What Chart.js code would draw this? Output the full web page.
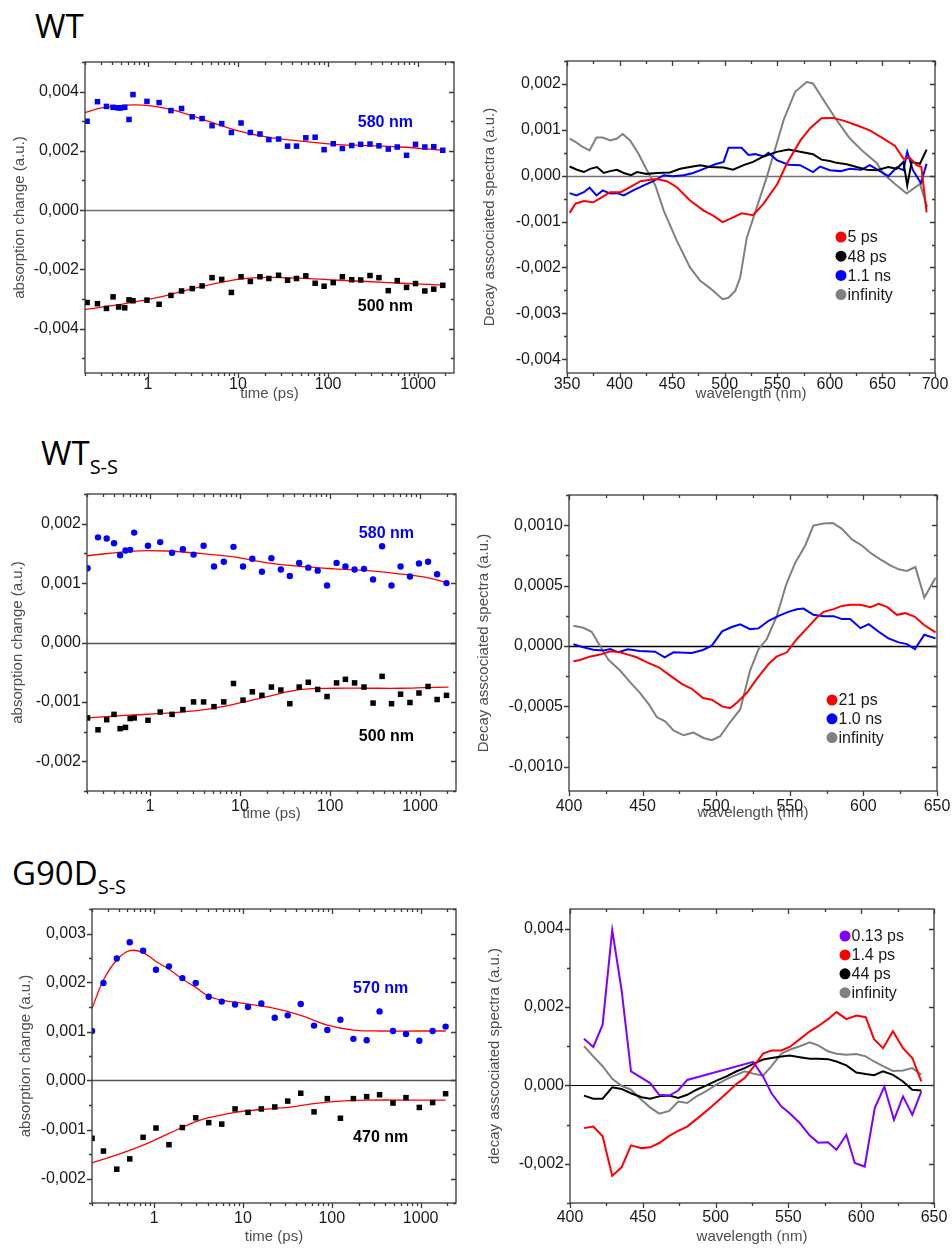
<!DOCTYPE html>
<html>
<head>
<meta charset="utf-8">
<script src="https://cdn.jsdelivr.net/npm/chart.js@4.4.1/dist/chart.umd.min.js"></script>
<style>
  body { margin: 0; width: 952px; height: 1250px; position: relative; overflow: hidden; background: #fff; }
  .title { position: absolute; font-family: 'Open Sans', sans-serif; font-size: 33px; line-height: 1; color: #000; white-space: nowrap; }
  .title sub { font-size: 20px; vertical-align: -9px; line-height: 1; }
  .panel { position: absolute; }
</style>
</head>
<body>
<div class="title" style="left:35px;top:9px">WT</div>
<div class="title" style="left:41px;top:436px">WT<sub>S-S</sub></div>
<div class="title" style="left:12px;top:856px">G90D<sub>S-S</sub></div>

<script>
// ---- WT kinetics (time in ps, absorption change) ----
const wtTime580 = [0.211, 0.275, 0.346, 0.41, 0.466, 0.498, 0.552, 0.616, 0.682, 0.975, 1.33, 1.80, 2.36, 3.10, 3.99, 5.15, 6.59, 8.44, 10.8, 13.7, 17.5, 22.0, 28.2, 35.5, 44.6, 56.6, 71.8, 90.3, 114, 144, 183, 230, 292, 367, 466, 586, 743, 934, 1186, 1490, 1876];
const wtAbs580 = [0.00300, 0.00366, 0.00350, 0.00347, 0.00345, 0.00345, 0.00347, 0.00306, 0.00390, 0.00367, 0.00363, 0.00336, 0.00343, 0.00315, 0.00309, 0.00285, 0.00292, 0.00262, 0.00294, 0.00262, 0.00257, 0.00238, 0.00240, 0.00216, 0.00216, 0.00244, 0.00246, 0.00204, 0.00224, 0.00208, 0.00218, 0.00222, 0.00223, 0.00217, 0.00206, 0.00213, 0.00185, 0.00222, 0.00213, 0.00214, 0.00202];
const wtTime500 = [0.211, 0.275, 0.346, 0.41, 0.473, 0.552, 0.616, 0.682, 0.975, 1.33, 1.80, 2.36, 3.10, 3.99, 5.15, 6.59, 8.44, 10.8, 13.7, 17.5, 22.0, 28.2, 35.5, 44.6, 56.6, 71.8, 90.3, 114, 144, 183, 230, 292, 367, 466, 586, 743, 934, 1186, 1490, 1876];
const wtAbs500 = [-0.00312, -0.00316, -0.00332, -0.00293, -0.00327, -0.00330, -0.00303, -0.00306, -0.00304, -0.00318, -0.00288, -0.00273, -0.00265, -0.00256, -0.00228, -0.00234, -0.00278, -0.00225, -0.00241, -0.00225, -0.00231, -0.00220, -0.00237, -0.00231, -0.00222, -0.00247, -0.00257, -0.00245, -0.00225, -0.00235, -0.00236, -0.00221, -0.00228, -0.00272, -0.00238, -0.00261, -0.00248, -0.00273, -0.00267, -0.00254];
const wtFitTime580 = [0.2, 0.304, 0.711, 1.66, 3.89, 9.1, 21.3, 49.8, 116, 272, 637, 1923];
const wtFit580 = [0.00329, 0.00345, 0.00355, 0.00342, 0.00308, 0.00271, 0.00246, 0.00233, 0.00222, 0.00218, 0.00213, 0.00202];
const wtFitTime500 = [0.2, 0.601, 1.29, 3.89, 10.8, 21.3, 49.8, 116, 272, 637, 1923];
const wtFit500 = [-0.00336, -0.00314, -0.00295, -0.00258, -0.00232, -0.00227, -0.00230, -0.00236, -0.00241, -0.00247, -0.00253];

// ---- WT decay associated spectra (wavelength in nm) ----
const wtWl5ps = [352.5, 358, 366, 375, 383, 391, 401, 410, 420, 429, 435.5, 445, 454.5, 467, 480, 489, 498, 505, 516, 527, 537, 550, 559, 572, 581, 592, 603, 613, 625.5, 638, 651, 662, 670, 676, 682.5, 687, 692];
const wtDas5ps = [-0.00081, -0.00061, -0.00055, -0.00058, -0.00047, -0.00036, -0.00036, -0.00025, -0.00012, -0.00009, -0.00007, -0.00012, -0.00025, -0.00054, -0.00076, -0.00087, -0.00101, -0.00094, -0.00082, -0.00086, -0.00061, -0.00018, 0.00026, 0.00077, 0.00103, 0.00125, 0.00126, 0.00120, 0.00110, 0.00099, 0.00081, 0.00065, 0.00037, 0.00039, 0.00023, 0.00019, -0.00080];
const wtWl48ps = [352.5, 359.5, 366, 372, 378.5, 385, 391, 397.5, 404, 411, 416.5, 426, 435.5, 448, 457.7, 467, 476.7, 486, 499, 508, 518, 527, 537, 549.5, 560.6, 571.7, 584, 592, 600, 606.5, 616, 625.5, 635, 644.5, 655.6, 663.5, 670, 673.6, 677.8, 685.7, 692];
const wtDas48ps = [0.00020, 0.00013, 0.00008, 0.00015, 0.00019, 0.00006, 0.00010, 0.00013, 0.00006, 0.00001, 0.00008, 0.00004, 0.00006, 0.00007, 0.00015, 0.00019, 0.00023, 0.00019, 0.00018, 0.00013, 0.00023, 0.00030, 0.00042, 0.00052, 0.00057, 0.00052, 0.00047, 0.00035, 0.00032, 0.00028, 0.00025, 0.00019, 0.00013, 0.00012, 0.00019, 0.00015, 0.00030, -0.00021, 0.00030, 0.00026, 0.00057];
const wtWl11ns = [352.5, 359, 366, 371.5, 378, 384, 391, 397.5, 404, 413, 423, 432, 442, 451, 461, 470, 480, 491, 499, 503.6, 516, 522.6, 529, 537, 541.6, 549.5, 560.6, 571.7, 584, 590.7, 600, 610, 619, 630, 638, 646, 655.6, 663.5, 670, 673.6, 679, 686.6, 692];
const wtDas11ns = [-0.00038, -0.00043, -0.00036, -0.00026, -0.00043, -0.00032, -0.00039, -0.00038, -0.00043, -0.00032, -0.00021, -0.00012, 0.00001, -0.00001, 0.00001, 0.00006, 0.00015, 0.00025, 0.00030, 0.00061, 0.00061, 0.00045, 0.00047, 0.00042, 0.00050, 0.00034, 0.00024, 0.00023, 0.00008, 0.00020, 0.00012, 0.00010, 0.00015, 0.00013, 0.00023, 0.00012, -0.00001, 0.00018, 0.00012, 0.00052, 0.00012, -0.00016, 0.00026];
const wtWlInf = [352.5, 358, 364, 371.5, 378, 384, 391, 397.5, 403, 410, 418, 426, 434, 442, 454.5, 467, 476.7, 486, 498, 503.6, 510, 514.7, 521, 530.5, 540, 549.5, 556, 567, 578, 584, 594, 606.5, 619, 632, 644.5, 651, 662, 673, 685.7, 692.6];
const wtDasInf = [0.00081, 0.00074, 0.00064, 0.00055, 0.00083, 0.00083, 0.00077, 0.00081, 0.00091, 0.00077, 0.00048, 0.00012, -0.00021, -0.00076, -0.00142, -0.00200, -0.00229, -0.00245, -0.00269, -0.00266, -0.00251, -0.00222, -0.00135, -0.00069, -0.00003, 0.00070, 0.00121, 0.00183, 0.00204, 0.00201, 0.00165, 0.00121, 0.00081, 0.00052, 0.00028, 0.00004, -0.00018, -0.00039, -0.00018, -0.00069];

// ---- WT S-S kinetics ----
const ssTime = [0.203, 0.265, 0.331, 0.399, 0.466, 0.535, 0.603, 0.668, 0.950, 1.30, 1.76, 2.32, 3.05, 3.94, 5.14, 6.60, 8.46, 10.8, 13.7, 17.5, 22.3, 28.4, 35.7, 45.4, 57.3, 72.8, 92.5, 118, 148, 187, 238, 300, 378, 481, 606, 770, 970, 1224, 1542, 1961];
const ssAbs580 = [0.00125, 0.00177, 0.00175, 0.00167, 0.00147, 0.00155, 0.00156, 0.00185, 0.00163, 0.00169, 0.00151, 0.00157, 0.00148, 0.00163, 0.00128, 0.00136, 0.00161, 0.00128, 0.00141, 0.00119, 0.00142, 0.00123, 0.00112, 0.00134, 0.00126, 0.00121, 0.00096, 0.00134, 0.00128, 0.00123, 0.00124, 0.00106, 0.00162, 0.00096, 0.00128, 0.00111, 0.00133, 0.00136, 0.00115, 0.00100];
const ssAbs500 = [-0.00127, -0.00147, -0.00130, -0.00121, -0.00145, -0.00143, -0.00128, -0.00127, -0.00131, -0.00117, -0.00121, -0.00113, -0.00100, -0.00100, -0.00108, -0.00100, -0.00069, -0.00097, -0.00083, -0.00089, -0.00075, -0.00080, -0.00103, -0.00075, -0.00067, -0.00079, -0.00091, -0.00068, -0.00062, -0.00068, -0.00075, -0.00102, -0.00057, -0.00103, -0.00087, -0.00101, -0.00085, -0.00074, -0.00096, -0.00089];
const ssFitTime = [0.2, 0.651, 1.54, 3.62, 8.53, 20.1, 47.4, 112, 264, 621, 1132, 2065];
const ssFit580 = [0.00146, 0.00154, 0.00154, 0.00150, 0.00144, 0.00134, 0.00128, 0.00124, 0.00121, 0.00115, 0.00110, 0.00100];
const ssFit500 = [-0.00127, -0.00122, -0.00119, -0.00114, -0.00104, -0.00091, -0.00079, -0.00077, -0.00077, -0.00077, -0.00076, -0.00075];

// ---- WT S-S decay associated spectra ----
const ssWl21ps = [403, 407.5, 414, 421, 428, 434.7, 440, 446, 453, 461, 468.7, 476.6, 483.4, 491, 497, 504, 509.5, 514, 520.8, 527.6, 535.6, 541, 548, 554.8, 561.6, 568.4, 573, 579.8, 585.4, 591, 598, 604.7, 610.4, 616, 622.8, 628.5, 635, 641, 649];
const ssDas21ps = [-0.000126, -0.000115, -0.000088, -0.000071, -0.000044, -0.000052, -0.000071, -0.000093, -0.000135, -0.000176, -0.000245, -0.000313, -0.000354, -0.000431, -0.000445, -0.000500, -0.000514, -0.000470, -0.000387, -0.000272, -0.000148, -0.000088, -0.000052, 0.000058, 0.000146, 0.000236, 0.000283, 0.000305, 0.000332, 0.000341, 0.000341, 0.000321, 0.000349, 0.000324, 0.000258, 0.000272, 0.000242, 0.000176, 0.000113];
const ssWl10ns = [403, 409.7, 416.5, 423, 428, 433.5, 440, 448, 458.5, 465, 471, 483.4, 491, 497, 504, 510.6, 516.3, 523, 528.8, 535.6, 542.4, 549, 554.8, 559.4, 566, 573, 579.8, 585.4, 591, 598, 603.6, 610.4, 617, 624, 629.6, 635, 641.4, 649];
const ssDas10ns = [0.000014, -0.000011, -0.000030, -0.000038, -0.000025, -0.000052, -0.000027, -0.000041, -0.000047, -0.000093, -0.000052, -0.000058, -0.000033, 0.000003, 0.000121, 0.000157, 0.000179, 0.000140, 0.000146, 0.000209, 0.000250, 0.000283, 0.000305, 0.000310, 0.000258, 0.000247, 0.000247, 0.000223, 0.000223, 0.000148, 0.000181, 0.000118, 0.000063, 0.000030, 0.000016, -0.000025, 0.000093, 0.000063];
const ssWlInf = [403, 409.7, 415.4, 421, 426.7, 434.7, 441.5, 448.3, 454, 459.6, 465.3, 471, 477.8, 484.6, 491.4, 497, 502.7, 509.5, 516.3, 523, 528.8, 534.4, 541.2, 547.6, 553.7, 560.5, 566, 573, 579.3, 585.4, 592.2, 599, 604.7, 611.5, 618.3, 624, 629.6, 635.3, 641.4, 649];
const ssDasInf = [0.000168, 0.000151, 0.000118, 0.000003, -0.000113, -0.000203, -0.000299, -0.000390, -0.000478, -0.000588, -0.000624, -0.000698, -0.000739, -0.000717, -0.000761, -0.000780, -0.000747, -0.000629, -0.000525, -0.000203, -0.000025, 0.000058, 0.000250, 0.000511, 0.000690, 0.000832, 0.000997, 0.001014, 0.001019, 0.000970, 0.000882, 0.000832, 0.000772, 0.000717, 0.000668, 0.000635, 0.000621, 0.000654, 0.000401, 0.000566];

// ---- G90D S-S kinetics ----
const gTime = [0.2, 0.269, 0.380, 0.532, 0.752, 1.05, 1.47, 2.08, 2.94, 4.12, 5.77, 8.15, 11.4, 16.1, 22.8, 31.9, 44.7, 63.1, 89.1, 125, 175, 247, 345, 488, 684, 966, 1365, 1910];
const gAbs570 = [0.00101, 0.00199, 0.00249, 0.00282, 0.00265, 0.00226, 0.00233, 0.00209, 0.00199, 0.00171, 0.00161, 0.00155, 0.00150, 0.00157, 0.00128, 0.00133, 0.00156, 0.00112, 0.00103, 0.00124, 0.00085, 0.00082, 0.00141, 0.00101, 0.00095, 0.00081, 0.00101, 0.00110];
const gAbs470 = [-0.00118, -0.00144, -0.00181, -0.00160, -0.00116, -0.00097, -0.00131, -0.00096, -0.00076, -0.00086, -0.00089, -0.00058, -0.00065, -0.00058, -0.00054, -0.00042, -0.00026, -0.00064, -0.00037, -0.00077, -0.00037, -0.00033, -0.00029, -0.00046, -0.00035, -0.00055, -0.00045, -0.00027];
const gFitTime570 = [0.2, 0.269, 0.380, 0.532, 0.752, 1.05, 1.47, 2.08, 2.94, 4.12, 5.77, 11.4, 22.8, 44.7, 89.1, 175, 345, 966, 1910];
const gFit570 = [0.00147, 0.00205, 0.00246, 0.00265, 0.00261, 0.00243, 0.00227, 0.00207, 0.00190, 0.00172, 0.00164, 0.00156, 0.00147, 0.00133, 0.00113, 0.00103, 0.00101, 0.00101, 0.00101];
const gFitTime470 = [0.2, 0.380, 0.752, 1.47, 2.94, 4.12, 8.15, 16.1, 31.9, 63.1, 125, 247, 966, 1910];
const gFit470 = [-0.00168, -0.00152, -0.00132, -0.00108, -0.00084, -0.00076, -0.00065, -0.00059, -0.00055, -0.00047, -0.00042, -0.00040, -0.00040, -0.00040];

// ---- G90D S-S decay associated spectra ----
const gWl013 = [409.6, 416, 422.4, 429, 435.4, 441.9, 449.2, 455, 461.3, 468.2, 474.3, 480.5, 525.8, 532.6, 538.4, 545.2, 550.9, 557.8, 564.7, 570.4, 577.2, 583, 589.8, 595.6, 602.4, 609.3, 615.9, 622.5, 628.7, 635.1, 641.3];
const gDas013 = [0.00119, 0.00098, 0.00155, 0.00396, 0.00244, 0.00036, 0.00019, 0.00006, -0.00024, -0.00026, -0.00013, 0.00014, 0.00060, 0.00023, -0.00020, -0.00054, -0.00071, -0.00096, -0.00128, -0.00146, -0.00145, -0.00164, -0.00126, -0.00198, -0.00207, -0.00058, -0.00003, -0.00088, -0.00028, -0.00075, -0.00015];
const gWl = [409.6, 416, 422.4, 429, 435.4, 441.9, 449.2, 455, 461.3, 468.2, 474.3, 480.5, 486.9, 493.8, 500.6, 507.5, 514.4, 520, 525.8, 532.6, 538.4, 545.2, 550.9, 557.8, 564.7, 570.4, 577.2, 583, 589.8, 596.7, 603.1, 608.8, 615, 621.8, 628.7, 635.1, 641.3];
const gDas14 = [-0.00109, -0.00105, -0.00130, -0.00231, -0.00209, -0.00153, -0.00160, -0.00158, -0.00147, -0.00129, -0.00116, -0.00105, -0.00086, -0.00065, -0.00043, -0.00020, 0.00004, 0.00019, 0.00046, 0.00081, 0.00089, 0.00089, 0.00098, 0.00118, 0.00138, 0.00151, 0.00169, 0.00187, 0.00169, 0.00178, 0.00174, 0.00118, 0.00095, 0.00138, 0.00095, 0.00070, 0.00010];
const gDas44 = [-0.00026, -0.00034, -0.00034, -0.00005, -0.00009, -0.00020, -0.00030, -0.00034, -0.00028, -0.00026, -0.00032, -0.00024, -0.00011, 0.00000, 0.00012, 0.00023, 0.00036, 0.00044, 0.00055, 0.00066, 0.00070, 0.00074, 0.00076, 0.00072, 0.00068, 0.00068, 0.00067, 0.00061, 0.00051, 0.00033, 0.00029, 0.00026, 0.00036, 0.00027, 0.00010, -0.00011, -0.00013];
const gDasInf = [0.00100, 0.00074, 0.00049, 0.00017, -0.00001, -0.00011, -0.00037, -0.00056, -0.00072, -0.00065, -0.00041, -0.00045, -0.00028, -0.00014, 0.00002, 0.00016, 0.00027, 0.00036, 0.00030, 0.00025, 0.00049, 0.00081, 0.00091, 0.00100, 0.00110, 0.00102, 0.00087, 0.00081, 0.00078, 0.00080, 0.00074, 0.00061, 0.00049, 0.00037, 0.00038, 0.00044, 0.00027];

const decadeTicks = [1, 10, 100, 1000];

const FONT = "'Liberation Sans', Arial, sans-serif";
const BLUE = '#0000ff', RED = '#ff0000', BLACK = '#000000', GRAY = '#808080', PURPLE = '#8000ff';
const AXW = 100, AXH = 50, PADT = 12, PADR = 22;

const pts = (xs, ys) => xs.map((x, i) => ({ x, y: ys[i] }));

const dots = (xs, ys, color, style, r) => ({
    data: pts(xs, ys), showLine: false, pointStyle: style, pointRadius: r,
    pointBackgroundColor: color, pointBorderWidth: 0, borderColor: color
});
const fit = (xs, ys) => ({
    data: pts(xs, ys), borderColor: RED, borderWidth: 1.3, pointRadius: 0, tension: 0.35
});
const spec = (label, xs, ys, color) => ({
    label, data: pts(xs, ys), borderColor: color, borderWidth: 2, pointRadius: 0, tension: 0
});

// frame, mirrored ticks, zero line, annotations and in-plot legend
const framePlugin = {
    id: 'frame',
    beforeDatasetsDraw(chart, args, opts) {
        const { ctx, chartArea: a, scales: { y } } = chart;
        const y0 = Math.round(y.getPixelForValue(0)) + 0.5;
        ctx.save();
        ctx.strokeStyle = opts.zeroColor;
        ctx.lineWidth = opts.zeroWidth;
        ctx.beginPath();
        ctx.moveTo(a.left, y0);
        ctx.lineTo(a.right, y0);
        ctx.stroke();
        ctx.restore();
    },
    afterDatasetsDraw(chart, args, opts) {
        const { ctx, chartArea: a, scales: { x, y } } = chart;
        ctx.save();
        ctx.strokeStyle = '#3a3a3a';
        ctx.lineWidth = 1.3;
        ctx.strokeRect(a.left, a.top, a.width, a.height);
        ctx.beginPath();

        // y ticks: outward on the left, inward on the right
        const yRatio = Math.round(y.options.ticks.stepSize / opts.yMinor);
        for (let i = Math.ceil(y.min / opts.yMinor - 1e-6); i * opts.yMinor <= y.max + 1e-12; i++) {
            const p = Math.round(y.getPixelForValue(i * opts.yMinor)) + 0.5;
            const len = i % yRatio === 0 ? 5 : 3;
            ctx.moveTo(a.left - len, p); ctx.lineTo(a.left, p);
            ctx.moveTo(a.right, p); ctx.lineTo(a.right - len, p);
        }

        // x ticks: outward at the bottom, inward at the top
        const xt = [];
        if (x.type === 'logarithmic') {
            for (let e = -1; e <= 3; e++) {
                for (let m = 1; m <= 9; m++) {
                    const v = m * Math.pow(10, e);
                    if (v >= x.min && v <= x.max) xt.push({ v, major: m === 1 });
                }
            }
        } else {
            const xRatio = Math.round(x.options.ticks.stepSize / opts.xMinor);
            for (let i = Math.ceil(x.min / opts.xMinor - 1e-6); i * opts.xMinor <= x.max + 1e-9; i++) {
                xt.push({ v: i * opts.xMinor, major: i % xRatio === 0 });
            }
        }
        xt.forEach(t => {
            const p = Math.round(x.getPixelForValue(t.v)) + 0.5;
            const len = t.major ? 5 : 3;
            ctx.moveTo(p, a.bottom); ctx.lineTo(p, a.bottom + len);
            ctx.moveTo(p, a.top); ctx.lineTo(p, a.top + len);
        });
        ctx.stroke();

        // wavelength notes on kinetic traces
        (opts.notes || []).forEach(n => {
            ctx.font = 'bold 16px ' + FONT;
            ctx.fillStyle = n.color;
            ctx.textAlign = 'center';
            ctx.textBaseline = 'middle';
            ctx.fillText(n.text, x.getPixelForValue(n.x), y.getPixelForValue(n.y));
        });

        // legend inside the plot
        if (opts.legend) {
            const L = opts.legend;
            let row = 0;
            chart.data.datasets.forEach(ds => {
                if (!ds.label) return;
                const cx = a.left + L.dx, cy = a.top + L.dy + row * L.gap;
                ctx.fillStyle = ds.borderColor;
                ctx.beginPath();
                ctx.arc(cx, cy, 5.5, 0, Math.PI * 2);
                ctx.fill();
                ctx.font = '16px ' + FONT;
                ctx.fillStyle = '#1a1a1a';
                ctx.textAlign = 'left';
                ctx.textBaseline = 'middle';
                ctx.fillText(ds.label, cx + 6.5, cy + 1);
                row++;
            });
        }
        ctx.restore();
    }
};

const fmtY = dec => v => (Math.abs(v) < 1e-10 ? 0 : v).toFixed(dec).replace('.', ',');

function makePanel(p) {
    const [l, t, r, b] = p.box;
    const c = document.createElement('canvas');
    c.className = 'panel';
    c.width = r - l + AXW + PADR;
    c.height = b - t + PADT + AXH;
    c.style.left = (l - AXW) + 'px';
    c.style.top = (t - PADT) + 'px';
    document.body.appendChild(c);

    const xScale = {
        type: p.log ? 'logarithmic' : 'linear',
        min: p.xMin, max: p.xMax,
        grid: { display: false, drawTicks: false },
        border: { display: false },
        ticks: {
            font: { family: FONT, size: 16 }, color: '#1a1a1a', padding: p.xPad,
            maxRotation: 0, autoSkip: false, includeBounds: false,
            callback: v => String(v)
        },
        title: {
            display: true, text: p.log ? 'time (ps)' : 'wavelength (nm)',
            font: { family: FONT, size: 15 }, color: '#4d4d4d',
            padding: { top: 0, bottom: p.xTitlePad }
        },
        afterFit: s => { s.height = AXH; s.paddingLeft = 0; s.paddingRight = 0; }
    };
    if (p.log) {
        xScale.afterBuildTicks = s => { s.ticks = decadeTicks.map(v => ({ value: v })); };
    } else {
        xScale.ticks.stepSize = p.xStep;
    }

    new Chart(c, {
        type: 'line',
        data: { datasets: p.datasets },
        options: {
            responsive: false,
            animation: false,
            layout: { padding: { left: 0, top: PADT, right: PADR, bottom: 0 } },
            plugins: {
                legend: { display: false },
                tooltip: { enabled: false },
                frame: {
                    zeroColor: p.zeroColor, zeroWidth: p.zeroWidth,
                    yMinor: p.yStep / 2, xMinor: p.xStep ? p.xStep / 2 : 0,
                    notes: p.notes, legend: p.legend
                }
            },
            scales: {
                x: xScale,
                y: {
                    min: p.yMin, max: p.yMax,
                    grid: { display: false, drawTicks: false },
                    border: { display: false },
                    ticks: {
                        stepSize: p.yStep, padding: 6,
                        font: { family: FONT, size: 16 }, color: '#1a1a1a',
                        callback: fmtY(p.yDec)
                    },
                    // labels only on multiples of the step, inside the range
                    afterBuildTicks: s => {
                        const out = [];
                        for (let i = Math.ceil(p.yMin / p.yStep - 1e-6); i * p.yStep <= p.yMax + 1e-12; i++) {
                            out.push({ value: i * p.yStep });
                        }
                        s.ticks = out;
                    },
                    title: {
                        display: true, text: p.yTitle,
                        font: { family: FONT, size: 15 }, color: '#4d4d4d',
                        padding: { top: p.yTitlePad, bottom: 0 }
                    },
                    afterFit: s => { s.width = AXW; s.paddingTop = 0; s.paddingBottom = 0; }
                }
            }
        },
        plugins: [framePlugin]
    });
}

makePanel({
    box: [85, 62, 454, 373], log: true, xMin: 0.2, xMax: 2500, xPad: 2, xTitlePad: 20,
    yMin: -0.0055, yMax: 0.005, yStep: 0.002, yDec: 3, yTitlePad: 26,
    yTitle: 'absorption change (a.u.)', zeroColor: '#707070', zeroWidth: 1.5,
    notes: [{ text: '580 nm', x: 432, y: 0.00297, color: BLUE }, { text: '500 nm', x: 432, y: -0.00327, color: BLACK }],
    datasets: [
        dots(wtTime580, wtAbs580, BLUE, 'rect', 3.9),
        dots(wtTime500, wtAbs500, BLACK, 'rect', 3.9),
        fit(wtFitTime580, wtFit580),
        fit(wtFitTime500, wtFit500)
    ]
});

makePanel({
    box: [567, 61, 935, 373], log: false, xMin: 350, xMax: 700, xStep: 50, xPad: 2, xTitlePad: 20,
    yMin: -0.0043, yMax: 0.0025, yStep: 0.001, yDec: 3, yTitlePad: 14,
    yTitle: 'Decay asscociated spectra (a.u.)', zeroColor: '#707070', zeroWidth: 1.5,
    legend: { dx: 274, dy: 176, gap: 19.2 },
    datasets: [
        spec('5 ps', wtWl5ps, wtDas5ps, RED),
        spec('48 ps', wtWl48ps, wtDas48ps, BLACK),
        spec('1.1 ns', wtWl11ns, wtDas11ns, BLUE),
        spec('infinity', wtWlInf, wtDasInf, GRAY)
    ]
});

makePanel({
    box: [87, 494, 456, 791], log: true, xMin: 0.2, xMax: 2500, xPad: 6, xTitlePad: 18,
    yMin: -0.0025, yMax: 0.0025, yStep: 0.001, yDec: 3, yTitlePad: 22,
    yTitle: 'absorption change (a.u.)', zeroColor: '#555555', zeroWidth: 1.5,
    notes: [{ text: '580 nm', x: 422, y: 0.00184, color: BLUE }, { text: '500 nm', x: 422, y: -0.00158, color: BLACK }],
    datasets: [
        dots(ssTime, ssAbs580, BLUE, 'circle', 3.2),
        dots(ssTime, ssAbs500, BLACK, 'rect', 3.9),
        fit(ssFitTime, ssFit580),
        fit(ssFitTime, ssFit500)
    ]
});

makePanel({
    box: [569, 495, 937, 791], log: false, xMin: 400, xMax: 650, xStep: 50, xPad: 6, xTitlePad: 19,
    yMin: -0.0012, yMax: 0.00125, yStep: 0.0005, yDec: 4, yTitlePad: 6,
    yTitle: 'Decay asscociated spectra (a.u.)', zeroColor: '#000000', zeroWidth: 1.5,
    legend: { dx: 263, dy: 205, gap: 18.8 },
    datasets: [
        spec('21 ps', ssWl21ps, ssDas21ps, RED),
        spec('1.0 ns', ssWl10ns, ssDas10ns, BLUE),
        spec('infinity', ssWlInf, ssDasInf, GRAY)
    ]
});

makePanel({
    box: [92, 909, 456, 1203], log: true, xMin: 0.2, xMax: 2500, xPad: 6, xTitlePad: 7,
    yMin: -0.0025, yMax: 0.0035, yStep: 0.001, yDec: 3, yTitlePad: 25,
    yTitle: 'absorption change (a.u.)', zeroColor: '#555555', zeroWidth: 1.5,
    notes: [{ text: '570 nm', x: 355, y: 0.00188, color: BLUE }, { text: '470 nm', x: 355, y: -0.00116, color: BLACK }],
    datasets: [
        dots(gTime, gAbs570, BLUE, 'circle', 3.2),
        dots(gTime, gAbs470, BLACK, 'rect', 3.9),
        fit(gFitTime570, gFit570),
        fit(gFitTime470, gFit470)
    ]
});

makePanel({
    box: [570, 909, 934, 1203], log: false, xMin: 400, xMax: 650, xStep: 50, xPad: 5, xTitlePad: 7,
    yMin: -0.003, yMax: 0.0045, yStep: 0.002, yDec: 3, yTitlePad: 16,
    yTitle: 'decay asscociated spectra (a.u.)', zeroColor: '#000000', zeroWidth: 1,
    legend: { dx: 275, dy: 27, gap: 18.9 },
    datasets: [
        spec('0.13 ps', gWl013, gDas013, PURPLE),
        spec('1.4 ps', gWl, gDas14, RED),
        spec('44 ps', gWl, gDas44, BLACK),
        spec('infinity', gWl, gDasInf, GRAY)
    ]
});
</script>
</body>
</html>
